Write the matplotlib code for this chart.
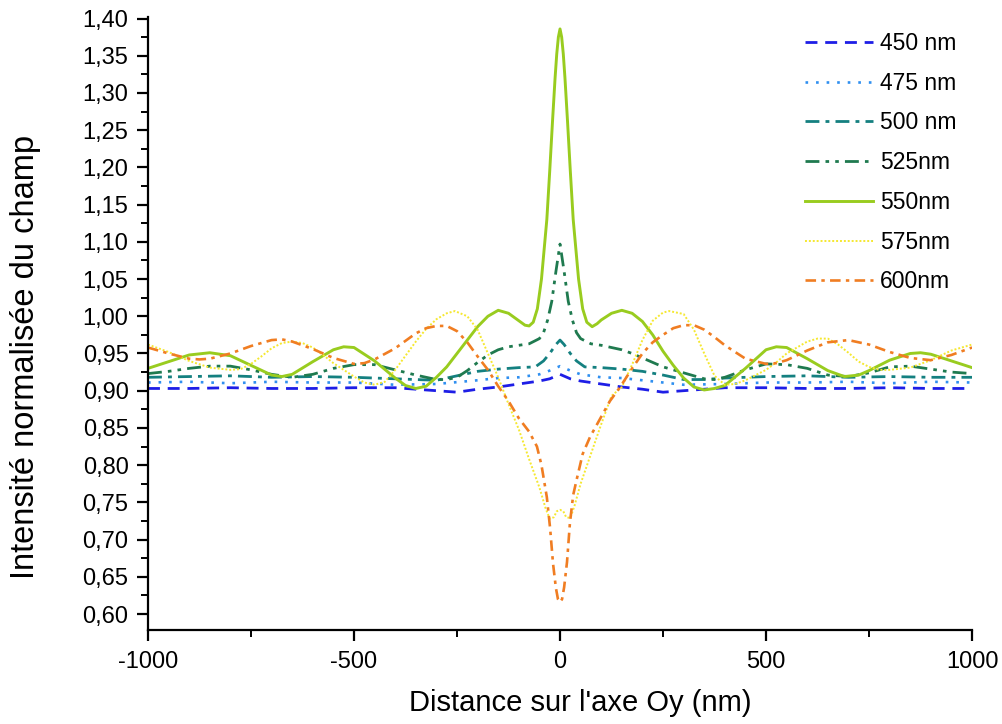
import matplotlib
matplotlib.use("Agg")
import matplotlib.pyplot as plt
from matplotlib.ticker import MultipleLocator, FuncFormatter

plt.rcParams['font.family'] = ['Liberation Sans', 'DejaVu Sans']

# ---- data (x in nm, normalised intensity) ----
x_450 = [-1000, -900, -800, -700, -600, -500, -400, -300, -250, -200, -150, -100, -50, -25, 0,
         25, 50, 100, 150, 200, 250, 300, 400, 500, 600, 700, 800, 900, 1000]
y_450 = [0.903, 0.903, 0.904, 0.903, 0.903, 0.904, 0.904, 0.900, 0.898, 0.902, 0.905, 0.909, 0.913, 0.916, 0.922,
         0.916, 0.913, 0.909, 0.905, 0.902, 0.898, 0.900, 0.904, 0.904, 0.903, 0.903, 0.904, 0.903, 0.903]

x_475 = [-1000, -900, -800, -700, -600, -500, -400, -300, -200, -150, -100, -50, -25, 0,
         25, 50, 100, 150, 200, 300, 400, 500, 600, 700, 800, 900, 1000]
y_475 = [0.911, 0.912, 0.910, 0.912, 0.911, 0.911, 0.908, 0.909, 0.914, 0.917, 0.918, 0.922, 0.927, 0.933,
         0.927, 0.922, 0.918, 0.917, 0.914, 0.908, 0.909, 0.911, 0.911, 0.912, 0.910, 0.912, 0.911]

x_500 = [-1000, -900, -800, -700, -600, -500, -400, -300, -250, -200, -150, -100, -60, -40, -25, -10, 0,
         10, 25, 40, 60, 100, 150, 200, 250, 300, 350, 400, 500, 600, 700, 800, 900, 1000]
y_500 = [0.918, 0.919, 0.920, 0.918, 0.919, 0.918, 0.916, 0.914, 0.920, 0.926, 0.929, 0.931, 0.932, 0.940, 0.950, 0.962, 0.968,
         0.962, 0.950, 0.940, 0.932, 0.931, 0.929, 0.926, 0.921, 0.915, 0.915, 0.917, 0.919, 0.920, 0.918, 0.919, 0.918, 0.918]

x_525 = [-1000, -950, -900, -850, -800, -750, -700, -650, -600, -550, -500, -450, -400, -350, -300, -275, -250,
         -225, -200, -175, -150, -125, -100, -75, -50, -40, -30, -20, -10, 0,
         10, 20, 30, 40, 50, 75, 100, 125, 150, 175, 200, 225, 250, 300, 350, 375, 400, 450, 500, 550,
         600, 650, 700, 750, 800, 850, 900, 950, 1000]
y_525 = [0.923, 0.926, 0.930, 0.933, 0.933, 0.928, 0.922, 0.918, 0.922, 0.930, 0.935, 0.935, 0.928, 0.921, 0.915, 0.915, 0.918,
         0.927, 0.938, 0.948, 0.955, 0.959, 0.961, 0.963, 0.970, 0.978, 0.995, 1.020, 1.060, 1.097,
         1.060, 1.020, 0.995, 0.978, 0.970, 0.963, 0.961, 0.958, 0.955, 0.950, 0.944, 0.938, 0.932, 0.924, 0.916, 0.915, 0.918, 0.928, 0.936, 0.935,
         0.930, 0.921, 0.919, 0.924, 0.932, 0.933, 0.929, 0.925, 0.923]

x_550 = [-1000, -950, -900, -850, -800, -750, -700, -675, -650, -600, -550, -525, -500, -450, -400, -375, -350,
         -325, -300, -275, -250, -225, -200, -175, -150, -125, -100, -85, -75, -65, -55, -45, -32, -25, -18,
         -12, -8, -4, 0, 4, 8, 12, 18, 25, 32, 45, 55, 65, 78, 90, 100, 125, 150, 175, 200, 225, 250, 275,
         300, 325, 350, 375, 400, 450, 500, 525, 550, 600, 650, 690, 725, 750, 800, 850, 875, 900, 950, 1000]
y_550 = [0.930, 0.939, 0.948, 0.951, 0.947, 0.934, 0.921, 0.919, 0.922, 0.939, 0.955, 0.959, 0.958, 0.940, 0.917, 0.907, 0.903,
         0.906, 0.918, 0.932, 0.950, 0.968, 0.986, 1.000, 1.008, 1.004, 0.994, 0.988, 0.987, 0.992, 1.010, 1.050, 1.130, 1.195, 1.264,
         1.320, 1.352, 1.375, 1.386, 1.375, 1.352, 1.320, 1.264, 1.195, 1.130, 1.050, 1.010, 0.992, 0.986, 0.990, 0.995, 1.004, 1.008, 1.004, 0.993, 0.975, 0.953, 0.934,
         0.917, 0.905, 0.901, 0.903, 0.907, 0.930, 0.955, 0.959, 0.958, 0.943, 0.927, 0.919, 0.921, 0.927, 0.941, 0.950, 0.951, 0.949, 0.940, 0.931]

x_575 = [-1000, -950, -900, -850, -800, -775, -750, -725, -700, -675, -650, -625, -600, -575, -550, -525, -500,
         -475, -450, -425, -400, -375, -350, -325, -300, -275, -255, -225, -200, -175, -150, -125, -100, -75,
         -50, -35, -25, -15, -8, 0, 8, 15, 25, 35, 50, 75, 100, 125, 150, 175, 200, 225, 250, 265, 300, 325,
         350, 375, 400, 425, 450, 500, 525, 550, 600, 625, 650, 675, 700, 725, 750, 775, 800, 850, 900, 950, 1000]
y_575 = [0.962, 0.952, 0.940, 0.931, 0.928, 0.929, 0.936, 0.946, 0.957, 0.964, 0.966, 0.964, 0.958, 0.948, 0.937, 0.928, 0.919,
         0.911, 0.908, 0.912, 0.928, 0.947, 0.966, 0.983, 0.996, 1.004, 1.007, 1.000, 0.982, 0.950, 0.918, 0.882, 0.848, 0.808,
         0.770, 0.742, 0.728, 0.730, 0.738, 0.740, 0.738, 0.730, 0.729, 0.745, 0.775, 0.815, 0.855, 0.893, 0.905, 0.935, 0.968, 0.994, 1.005, 1.007, 1.003, 0.982,
         0.950, 0.920, 0.908, 0.909, 0.914, 0.928, 0.938, 0.950, 0.966, 0.970, 0.970, 0.962, 0.951, 0.939, 0.932, 0.928, 0.928, 0.931, 0.941, 0.954, 0.962]

x_600 = [-1000, -950, -900, -875, -850, -800, -750, -700, -675, -650, -600, -550, -500, -475, -450, -400, -375,
         -350, -325, -300, -275, -250, -225, -200, -175, -150, -125, -100, -75, -56, -45, -32, -24, -17, -10,
         -5, 0, 5, 10, 17, 24, 32, 41, 55, 73, 100, 121, 146, 175, 200, 225, 250, 275, 300, 325, 350, 375,
         400, 450, 500, 525, 550, 600, 650, 700, 750, 800, 850, 900, 950, 1000]
y_600 = [0.958, 0.950, 0.943, 0.942, 0.943, 0.950, 0.960, 0.968, 0.969, 0.966, 0.956, 0.944, 0.936, 0.937, 0.942, 0.957, 0.967,
         0.977, 0.984, 0.987, 0.987, 0.980, 0.965, 0.946, 0.928, 0.906, 0.886, 0.863, 0.845, 0.825, 0.800, 0.757, 0.715, 0.668, 0.635,
         0.620, 0.616, 0.620, 0.636, 0.670, 0.722, 0.760, 0.782, 0.815, 0.838, 0.865, 0.886, 0.905, 0.930, 0.950, 0.965, 0.975, 0.984, 0.988, 0.988, 0.982, 0.972,
         0.961, 0.943, 0.936, 0.937, 0.941, 0.954, 0.965, 0.968, 0.962, 0.952, 0.944, 0.941, 0.948, 0.958]

series = [
    (x_450, y_450, "450 nm", "#1e1ee6", (0, (4.3, 2.8)), 2.0),
    (x_475, y_475, "475 nm", "#2f8ff0", (0, (1, 3)), 1.9),
    (x_500, y_500, "500 nm", "#148080", (0, (5, 2.2, 1.4, 2.2)), 2.0),
    (x_525, y_525, "525nm", "#1f7a4f", (0, (5, 2.2, 1.3, 2.2, 1.3, 2.2)), 2.0),
    (x_550, y_550, "550nm", "#99cc1f", "-", 2.1),
    (x_575, y_575, "575nm", "#f5e830", (0, (1, 1)), 1.4),
    (x_600, y_600, "600nm", "#f07d22", (0, (4, 2, 1.3, 2)), 1.9),
]

fig = plt.figure(figsize=(10.02, 7.24), dpi=100)
ax = fig.add_axes([0.1477, 0.1298, 0.8224, 0.8467])

for xs, ys, lab, col, ls, lw in series:
    ax.plot(xs, ys, color=col, linestyle=ls, linewidth=lw, label=lab)

ax.set_xlim(-1000, 1000)
ax.set_ylim(0.5785, 1.402)

ax.xaxis.set_major_locator(MultipleLocator(500))
ax.xaxis.set_minor_locator(MultipleLocator(250))
ax.yaxis.set_major_locator(MultipleLocator(0.05))
ax.yaxis.set_minor_locator(MultipleLocator(0.025))
ax.yaxis.set_major_formatter(FuncFormatter(lambda v, p: f"{v:.2f}".replace(".", ",")))
ax.xaxis.set_major_formatter(FuncFormatter(lambda v, p: f"{int(round(v))}"))

for side in ("top", "right"):
    ax.spines[side].set_visible(False)
for side in ("left", "bottom"):
    ax.spines[side].set_linewidth(1.6)

ax.tick_params(axis="both", which="major", direction="out", length=8, width=1.6,
               labelsize=17, colors="black")
ax.tick_params(axis="both", which="minor", direction="out", length=5, width=1.4)
ax.tick_params(axis="y", which="major", pad=6)
ax.tick_params(axis="x", which="major", pad=7)

ax.set_xlabel("Distance sur l'axe Oy (nm)", fontsize=21)
ax.set_ylabel("Intensité normalisée du champ", fontsize=23.5)
ax.xaxis.set_label_coords(0.524, -0.097)
ax.yaxis.set_label_coords(-0.130, 0.445)

fs_pt = 16.5
fs_px = fs_pt * 100 / 72
leg = ax.legend(loc="upper left", bbox_to_anchor=(805 / 1002, 1 - 32 / 724),
                bbox_transform=fig.transFigure, frameon=False, borderpad=0, borderaxespad=0,
                fontsize=fs_pt, handlelength=68 / fs_px, handletextpad=7 / fs_px,
                labelspacing=0.73)

fig.savefig("out.png", dpi=100)
